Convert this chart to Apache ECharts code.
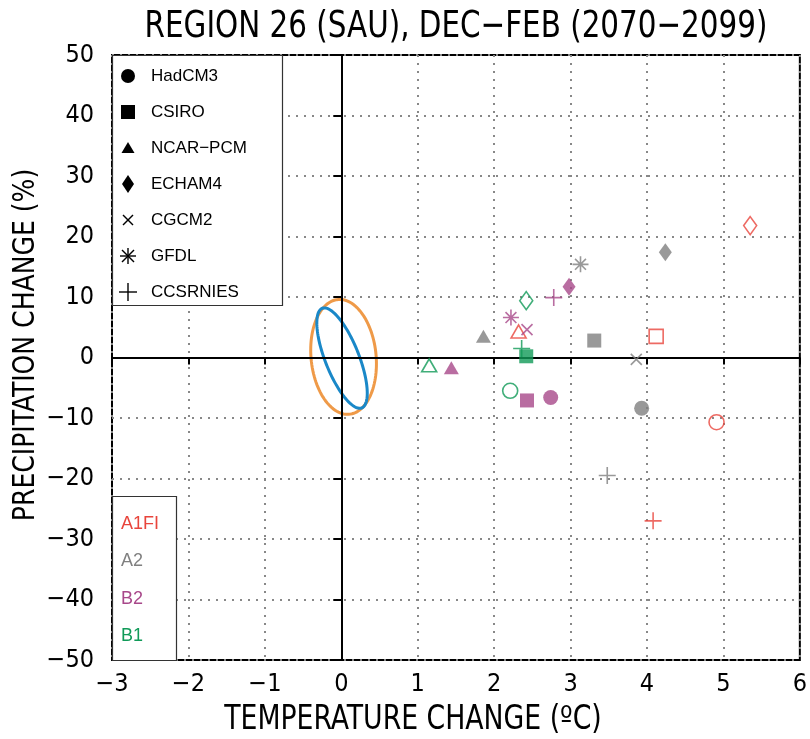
<!DOCTYPE html>
<html><head><meta charset="utf-8">
<script src="https://cdn.jsdelivr.net/npm/echarts@6/dist/echarts.min.js"></script>
<style>html,body{margin:0;padding:0;background:#fff}#c{width:810px;height:739px}</style>
</head><body><div id="c"></div>
<script>
// ---------- DATA ----------
const models = ['HadCM3','CSIRO','NCAR\u2212PCM','ECHAM4','CGCM2','GFDL','CCSRNIES'];
const scenarios = ['A1FI','A2','B2','B1'];
// temperature change (°C) / precipitation change (%) per model, per scenario (null = not shown)
const a1fiTemp = [4.91, 4.12, 2.32, 5.35, null, null, 4.08];
const a1fiPrec = [-10.7, 3.5, 4.3, 21.8, null, null, -27.0];
const a2Temp   = [3.93, 3.31, 1.86, 4.24, 3.86, 3.13, 3.48];
const a2Prec   = [-8.4, 2.8, 3.5, 17.4, -0.3, 15.4, -19.5];
const b2Temp   = [2.74, 2.43, 1.44, 2.98, 2.43, 2.22, 2.78];
const b2Prec   = [-6.6, -7.1, -1.7, 11.7, 4.6, 6.6, 9.9];
const b1Temp   = [2.21, 2.42, 1.15, 2.42, null, null, 2.36];
const b1Prec   = [-5.5, 0.2, -1.3, 9.4, null, null, 1.5];
// natural variability ellipses
const ellipseCenterX = [0.03, 0.01];
const ellipseCenterY = [0.1, -0.1];
const ellipseHalfX   = [0.43, 0.33];
const ellipseHalfY   = [9.5, 8.3];
const ellipseCorr    = [-0.12, -0.70];
const xTicks = [-3,-2,-1,0,1,2,3,4,5,6];
const yTicks = [-50,-40,-30,-20,-10,0,10,20,30,40,50];

// ---------- STYLE ----------
const scenColors = ['#e8453c','#808080','#a8488a','#109a58'];
const openFlags = [[1,1,1,1,1,1,1],[0,0,0,0,0,0,0],[0,0,0,0,0,0,0],[1,0,1,1,1,1,1]];
const ellColors = ['#ef9a48','#1a88c8'];
const FONT = "'DejaVu Sans Condensed','Liberation Sans Narrow','Liberation Sans',sans-serif";
const LFONT = "'Liberation Sans',sans-serif";
const symDefs = [
  {symbol:'circle', size:15},
  {symbol:'rect', size:14},
  {symbol:'triangle', size:[15,13]},
  {symbol:'diamond', size:[13,18]},
  {symbol:'path://M0,0L10,10M0,10L10,0', size:11, line:true},
  {symbol:'path://M5,0L5,10M0,5L10,5M1.6,1.6L8.4,8.4M1.6,8.4L8.4,1.6', size:16, line:true},
  {symbol:'path://M5,0L5,10M0,5L10,5', size:17, line:true}
];
const temps = [a1fiTemp,a2Temp,b2Temp,b1Temp];
const precs = [a1fiPrec,a2Prec,b2Prec,b1Prec];

const series = [];
// ellipses
series.push({
  type:'custom', z:3, silent:true,
  data: ellipseCenterX.map((cx,i)=>[cx, ellipseCenterY[i], ellipseHalfX[i], ellipseHalfY[i], ellipseCorr[i], i]),
  renderItem: function(params, api){
    const cx=api.value(0), cy=api.value(1), hx=api.value(2), hy=api.value(3), c=api.value(4), idx=api.value(5);
    const phi = Math.acos(c);
    const pts=[];
    for(let k=0;k<=120;k++){
      const t = k/120*2*Math.PI;
      pts.push(api.coord([cx+hx*Math.cos(t), cy+hy*Math.cos(t-phi)]));
    }
    return {type:'polyline', shape:{points:pts}, style:{fill:null, stroke:ellColors[idx], lineWidth:3}};
  }
});
// zero lines
series.push({
  type:'line', data:[], z:2,
  markLine:{silent:true, symbol:'none', label:{show:false},
    lineStyle:{color:'#000', type:'solid', width:2},
    data:[{xAxis:0},{yAxis:0}]}
});
scenarios.forEach((s,si)=>{
  const data=[];
  models.forEach((m,mi)=>{
    const x=temps[si][mi], y=precs[si][mi];
    if(x==null||y==null) return;
    const d=symDefs[mi];
    const open = openFlags[si][mi]===1;
    let itemStyle;
    if(d.line || open){
      itemStyle={color:'transparent', borderColor:scenColors[si], borderWidth:1.6};
    } else {
      itemStyle={color:scenColors[si], borderColor:scenColors[si], borderWidth:0};
    }
    data.push({value:[x,y], symbol:d.symbol, symbolSize:d.size, itemStyle});
  });
  series.push({type:'scatter', name:s, data, z:5, silent:true});
});

// graphic legends & labels
const graphic=[];
graphic.push({type:'text', x:456, y:27, scaleX:0.86, style:{text:'REGION 26 (SAU), DEC\u2212FEB (2070\u22122099)', font:'38px '+FONT, fill:'#000', textAlign:'center', textVerticalAlign:'middle'}});
graphic.push({type:'text', x:413, y:720, scaleX:0.9, style:{text:'TEMPERATURE CHANGE (\u00baC)', font:'33px '+FONT, fill:'#000', textAlign:'center', textVerticalAlign:'middle'}});
graphic.push({type:'text', x:26, y:345, rotation:Math.PI/2, scaleX:0.9, style:{text:'PRECIPITATION CHANGE (%)', font:'31px '+FONT, fill:'#000', textAlign:'center', textVerticalAlign:'middle'}});
// model legend box
graphic.push({type:'rect', z:10, shape:{x:112.5, y:55.5, width:170, height:250}, style:{fill:'#fff', stroke:'#333', lineWidth:1.2}});
const rowY=[76,112,148,184,220,256,292];
const mx=128;
const ln=(x1,y1,x2,y2)=>({type:'line', z:11, shape:{x1,y1,x2,y2}, style:{stroke:'#000', lineWidth:1.4}});
models.forEach((m,i)=>{
  const y=rowY[i];
  let gs;
  if(i===0) gs=[{type:'circle', z:11, shape:{cx:mx, cy:y, r:7}, style:{fill:'#000'}}];
  else if(i===1) gs=[{type:'rect', z:11, shape:{x:mx-7, y:y-7, width:14, height:14}, style:{fill:'#000'}}];
  else if(i===2) gs=[{type:'polygon', z:11, shape:{points:[[mx,y-6],[mx+6.5,y+5],[mx-6.5,y+5]]}, style:{fill:'#000'}}];
  else if(i===3) gs=[{type:'polygon', z:11, shape:{points:[[mx,y-9],[mx+6,y],[mx,y+9],[mx-6,y]]}, style:{fill:'#000'}}];
  else if(i===4) gs=[ln(mx-5,y-5,mx+5,y+5), ln(mx-5,y+5,mx+5,y-5)];
  else if(i===5) gs=[ln(mx,y-8,mx,y+8), ln(mx-8,y,mx+8,y), ln(mx-6,y-6,mx+6,y+6), ln(mx-6,y+6,mx+6,y-6)];
  else gs=[ln(mx,y-9,mx,y+9), ln(mx-9,y,mx+9,y)];
  gs.forEach(g=>graphic.push(g));
  graphic.push({type:'text', z:11, x:151, y:y, style:{text:m, font:'17px '+LFONT, fill:'#000', textVerticalAlign:'middle'}});
});
// scenario legend box
graphic.push({type:'rect', z:10, shape:{x:112.5, y:496.5, width:64, height:164}, style:{fill:'#fff', stroke:'#333', lineWidth:1.2}});
const sy=[524,561,599,636];
scenarios.forEach((s,i)=>{
  graphic.push({type:'text', z:11, x:121, y:sy[i], style:{text:s, font:'18px '+LFONT, fill:scenColors[i], textVerticalAlign:'middle'}});
});

const fmt = v=>String(v).replace('-','\u2212');
const option = {
  animation:false,
  backgroundColor:'#fff',
  grid:{left:112, right:10, top:55, bottom:79, show:true, borderColor:'#000', borderWidth:2, backgroundColor:'transparent'},
  xAxis:{type:'value', min:-3, max:6, interval:1,
    axisLine:{show:false}, axisTick:{show:true, length:7, lineStyle:{color:'#000', width:2}},
    axisLabel:{margin:12, fontFamily:FONT, fontSize:25, color:'#000', formatter:fmt},
    splitLine:{show:true, lineStyle:{color:'#888', type:[2,6], width:2}}},
  yAxis:{type:'value', min:-50, max:50, interval:10,
    axisLine:{show:false}, axisTick:{show:true, length:8, lineStyle:{color:'#000', width:2}},
    axisLabel:{margin:18, fontFamily:FONT, fontSize:25, color:'#000', formatter:fmt},
    splitLine:{show:true, lineStyle:{color:'#888', type:[2,6], width:2}}},
  series, graphic
};
const chart = echarts.init(document.getElementById('c'), null, {renderer:'canvas'});
chart.setOption(option);
</script></body></html>
